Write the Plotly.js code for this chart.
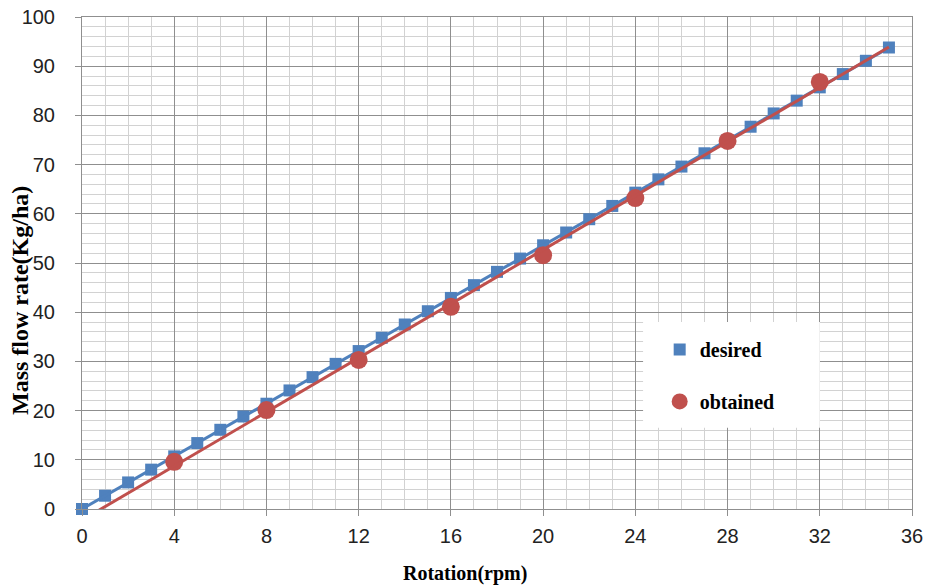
<!DOCTYPE html>
<html>
<head>
<meta charset="utf-8">
<script src="https://cdn.plot.ly/plotly-3.0.1.min.js"></script>
<style>html,body{margin:0;padding:0;background:#fff;}#chart{width:932px;height:586px;}</style>
</head>
<body>
<div id="chart"></div>
<script>
// Data
const desiredX = [0,1,2,3,4,5,6,7,8,9,10,11,12,13,14,15,16,17,18,19,20,21,22,23,24,25,26,27,28,29,30,31,32,33,34,35];
const desiredY = [0,2.7,5.4,8.0,10.7,13.4,16.1,18.8,21.4,24.1,26.8,29.5,32.1,34.8,37.5,40.2,42.9,45.5,48.2,50.9,53.6,56.2,58.9,61.6,64.3,67.0,69.6,72.3,75.0,77.7,80.4,83.0,85.7,88.4,91.1,93.8];
const obtainedX = [4,8,12,16,20,24,28,32];
const obtainedY = [9.6,20.1,30.3,41.1,51.6,63.2,74.8,86.8];
const xTicks = [0,4,8,12,16,20,24,28,32,36];
const yTicks = [0,10,20,30,40,50,60,70,80,90,100];
const xTitle = 'Rotation(rpm)';
const yTitle = 'Mass flow rate(Kg/ha)';

// Linear trendlines (least squares), as in the original spreadsheet chart
function fit(xs, ys){
  const n = xs.length;
  const mx = xs.reduce((a,b)=>a+b,0)/n, my = ys.reduce((a,b)=>a+b,0)/n;
  let sxy=0,sxx=0;
  for(let i=0;i<n;i++){sxy+=(xs[i]-mx)*(ys[i]-my);sxx+=(xs[i]-mx)*(xs[i]-mx);}
  const m = sxy/sxx; return {m:m, b:my-m*mx};
}
const fD = fit(desiredX, desiredY), fO = fit(obtainedX, obtainedY);
const lineX = [0, 35];
const blue = '#4F81BD', red = '#C0504D';

const traces = [
  {x: desiredX, y: desiredY, mode:'markers', name:'desired', legendgroup:'d',
   marker:{symbol:'square', size:12, color:blue}, cliponaxis:false},
  {x: lineX, y: lineX.map(v=>fD.m*v+fD.b), mode:'lines', showlegend:false, legendgroup:'d',
   line:{color:blue, width:3}, hoverinfo:'skip'},
  {x: obtainedX, y: obtainedY, mode:'markers', name:'obtained', legendgroup:'o',
   marker:{symbol:'circle', size:18, color:red}},
  {x: lineX, y: lineX.map(v=>fO.m*v+fO.b), mode:'lines', showlegend:false, legendgroup:'o',
   line:{color:red, width:3}, hoverinfo:'skip'}
];

const tickFont = {family:'Liberation Sans, Arial, sans-serif', size:20, color:'#222'};
const serif = 'Liberation Serif, Times New Roman, serif';

const layout = {
  width:932, height:586,
  margin:{l:82, r:20, t:17, b:77},
  paper_bgcolor:'#fff', plot_bgcolor:'#fff',
  showlegend:true,
  legend:{x:0.696, xanchor:'left', y:0.364, yanchor:'top', bgcolor:'rgba(0,0,0,0)',
    traceorder:'grouped', tracegroupgap:23,
    font:{family:serif, size:20, color:'#000', weight:'bold'}},
  shapes:[{type:'rect', xref:'paper', yref:'paper', x0:0.676, x1:0.889, y0:0.165, y1:0.380,
    fillcolor:'#fff', line:{width:0}, layer:'above'}],
  annotations:[
    {text:'<b>'+xTitle+'</b>', xref:'paper', yref:'paper', x:(465-82)/830, y:-(573-509)/492,
     xanchor:'center', yanchor:'middle', showarrow:false, font:{family:serif, size:20, color:'#000'}},
    {text:'<b>'+yTitle+'</b>', xref:'paper', yref:'paper', x:-(82-20)/830, y:(509-301)/492,
     xanchor:'center', yanchor:'middle', textangle:-90, showarrow:false, font:{family:serif, size:24, color:'#000'}}
  ],
  xaxis:{range:[0,36], tickvals:xTicks, ticktext:xTicks.map(String), tickfont:tickFont,
    ticklabelstandoff:3,
    showgrid:true, gridcolor:'#8f8f8f', gridwidth:1,
    minor:{dtick:1, tick0:0, showgrid:true, gridcolor:'#d2d2d2', gridwidth:1},
    showline:true, mirror:true, linecolor:'#8f8f8f', linewidth:1,
    ticks:'outside', ticklen:6, tickcolor:'#8f8f8f', zeroline:false},
  yaxis:{range:[0,100], tickvals:yTicks, ticktext:yTicks.map(String), tickfont:tickFont,
    ticklabelstandoff:16,
    showgrid:true, gridcolor:'#8f8f8f', gridwidth:1,
    minor:{dtick:2, tick0:0, showgrid:true, gridcolor:'#d2d2d2', gridwidth:1},
    showline:true, mirror:true, linecolor:'#8f8f8f', linewidth:1,
    ticks:'outside', ticklen:6, tickcolor:'#8f8f8f', zeroline:false}
};

Plotly.newPlot('chart', traces, layout, {displayModeBar:false, staticPlot:true});
</script>
</body>
</html>
